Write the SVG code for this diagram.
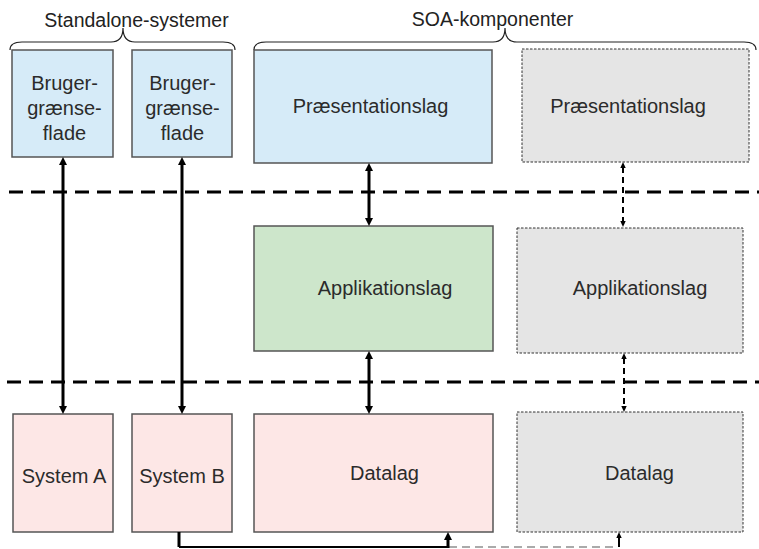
<svg xmlns="http://www.w3.org/2000/svg" width="759" height="549" viewBox="0 0 759 549">
<defs>
<style>
.lbl{font-family:"Liberation Sans",Arial,sans-serif;font-size:20px;fill:#2b2b2b;text-anchor:middle}
.hdr{font-family:"Liberation Sans",Arial,sans-serif;font-size:19.5px;fill:#222;text-anchor:middle}
.box{stroke:#555;stroke-width:1.5}
.gbox{fill:#e5e5e5;stroke:#333;stroke-width:1;stroke-dasharray:2.5,1.5}
.blue{fill:#d6ebf8}
.green{fill:#cde6cb}
.pink{fill:#fde7e6}
.brace{fill:none;stroke:#222;stroke-width:1.2}
.sep{fill:none;stroke:#000;stroke-width:3;stroke-dasharray:14,8}
.solid{fill:none;stroke:#000;stroke-width:3}
.dash{fill:none;stroke:#000;stroke-width:2;stroke-dasharray:6,4}
</style>
<marker id="ah" markerUnits="userSpaceOnUse" viewBox="0 0 8 8" markerWidth="8" markerHeight="8" refX="2" refY="4" orient="auto-start-reverse">
<path d="M0,0 L8,4 L0,8 z" fill="#000"/>
</marker>
<marker id="as" markerUnits="userSpaceOnUse" viewBox="0 0 6 6" markerWidth="6" markerHeight="6" refX="1" refY="3" orient="auto-start-reverse">
<path d="M0,0.3 L6,3 L0,5.7 z" fill="#000"/>
</marker>
</defs>
<rect width="759" height="549" fill="#fff"/>

<g id="braces">
<path class="brace" d="M10,50 C10,44 14,42 22,42 L111,42 C119,42 123,38 123,28 C123,38 127,42 135,42 L223,42 C231,42 235,44 235,50"/>
<path class="brace" d="M254,50 C254,44 258,42 266,42 L493,42 C501,42 505,38 505,28 C505,38 509,42 517,42 L744,42 C752,42 756,44 756,50"/>
<text class="hdr" x="136.5" y="26.5">Standalone-systemer</text>
<text class="hdr" x="492.5" y="26">SOA-komponenter</text>
</g>

<g id="separators">
<path class="sep" d="M9,192 H759"/>
<path class="sep" d="M7,382 H759"/>
</g>

<g id="ui1">
<rect class="box blue" x="12" y="50" width="101" height="107"/>
<text class="lbl" x="64.5" y="90">Bruger-</text>
<text class="lbl" x="64.5" y="115">grænse-</text>
<text class="lbl" x="64.5" y="139.5">flade</text>
</g>
<g id="ui2">
<rect class="box blue" x="132" y="50" width="100" height="107"/>
<text class="lbl" x="182.5" y="90">Bruger-</text>
<text class="lbl" x="182.5" y="115">grænse-</text>
<text class="lbl" x="182.5" y="139.5">flade</text>
</g>
<g id="pres">
<rect class="box blue" x="254" y="50" width="238" height="113"/>
<text class="lbl" x="370.5" y="113">Præsentationslag</text>
</g>
<g id="pres-gray">
<rect class="gbox" x="522" y="49" width="227" height="113"/>
<text class="lbl" x="628" y="113">Præsentationslag</text>
</g>
<g id="app">
<rect class="box green" x="254" y="226" width="239" height="125"/>
<text class="lbl" x="385" y="295">Applikationslag</text>
</g>
<g id="app-gray">
<rect class="gbox" x="517" y="228" width="226" height="125"/>
<text class="lbl" x="640" y="295">Applikationslag</text>
</g>
<g id="sysA">
<rect class="box pink" x="13" y="414" width="100" height="118"/>
<text class="lbl" x="64" y="483">System A</text>
</g>
<g id="sysB">
<rect class="box pink" x="132" y="414" width="100" height="118"/>
<text class="lbl" x="182" y="483">System B</text>
</g>
<g id="data">
<rect class="box pink" x="254" y="414" width="239" height="118"/>
<text class="lbl" x="384.5" y="480">Datalag</text>
</g>
<g id="data-gray">
<rect class="gbox" x="517" y="412" width="226" height="120"/>
<text class="lbl" x="639.5" y="480">Datalag</text>
</g>

<g id="connectors">
<path class="solid" d="M63,163 V408" marker-start="url(#ah)" marker-end="url(#ah)"/>
<path class="solid" d="M182,163 V408" marker-start="url(#ah)" marker-end="url(#ah)"/>
<path class="solid" d="M369,169 V220" marker-start="url(#ah)" marker-end="url(#ah)"/>
<path class="solid" d="M369,357 V408" marker-start="url(#ah)" marker-end="url(#ah)"/>
<path class="dash" d="M623,167 V222" marker-start="url(#as)" marker-end="url(#as)"/>
<path class="dash" d="M624,358 V407" marker-start="url(#as)" marker-end="url(#as)"/>
<path fill="none" stroke="#000" stroke-width="3" d="M179,532 V547"/>
<path fill="none" stroke="#000" stroke-width="2" d="M179,547 H449"/>
<path fill="none" stroke="#aaa" stroke-width="2" stroke-dasharray="8,5" d="M449,547 H618"/>
<path fill="none" stroke="#000" stroke-width="3" d="M448,548 V538" marker-end="url(#ah)"/>
<path fill="none" stroke="#000" stroke-width="2" d="M619,547 V537" marker-end="url(#as)"/>
</g>
</svg>
